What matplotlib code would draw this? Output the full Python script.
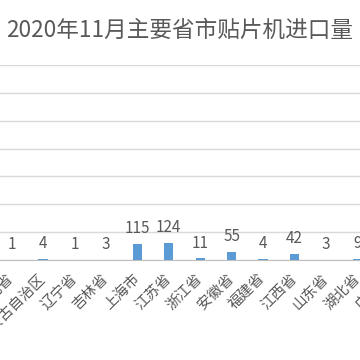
import numpy as np
import matplotlib
matplotlib.use('Agg')
import matplotlib.pyplot as plt

plt.rcParams['font.family'] = ['Noto Sans CJK SC', 'DejaVu Sans']

# visible part of the chart (cropped at both sides)
provinces = ['河北省', '内蒙古自治区', '辽宁省', '吉林省', '上海市', '江苏省',
             '浙江省', '安徽省', '福建省', '江西省', '山东省', '湖北省', '广东省']
imports = [1, 4, 1, 3, 115, 124, 11, 55, 4, 42, 3, 9]   # 广东省 bar is off the picture
title = '2020年11月主要省市贴片机进口量'

text_color = '#595959'
bar_color = '#5B9BD5'

fig = plt.figure(figsize=(3.6, 3.6), dpi=100)
# axes deliberately wider than the figure: the reference is a crop
ax = fig.add_axes([-4.2 / 360, 100 / 360, 408.7 / 360, 195 / 360])

x = np.arange(len(imports))
bars = ax.bar(x, imports, width=0.29, color=bar_color, zorder=3)
ax.bar_label(bars, labels=[str(v) for v in imports], padding=5,
             fontsize=11, color=text_color)

ax.set_xlim(-0.5, len(provinces) - 0.5)
ax.set_ylim(0, 1400)
ax.set_yticks(np.arange(0, 1401, 200))
ax.yaxis.grid(True, color='#D9D9D9', linewidth=1)
ax.set_axisbelow(True)
ax.tick_params(axis='y', left=False, labelleft=False)

ax.set_xticks(np.arange(len(provinces)))
ax.set_xticklabels(provinces, rotation=45, ha='right', va='center',
                   rotation_mode='anchor', fontsize=10.5, color=text_color)
ax.tick_params(axis='x', length=0, pad=12)

for s in ['top', 'left', 'right']:
    ax.spines[s].set_visible(False)
ax.spines['bottom'].set_color('#BFBFBF')

fig.text(0.5, 0.915, title, ha='center', va='center', fontsize=16.3, color=text_color)

fig.savefig('out.png', dpi=100)
